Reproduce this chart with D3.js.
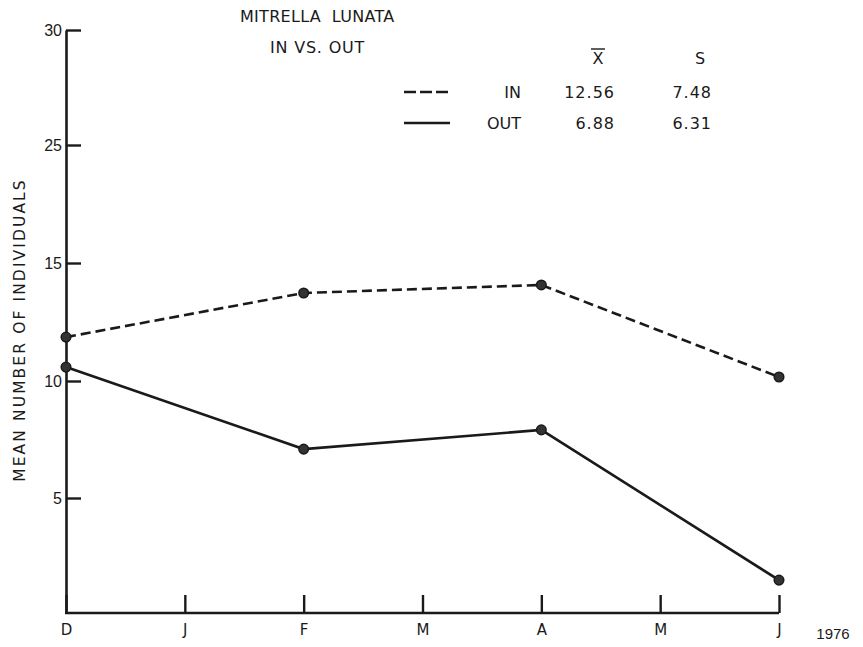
<!DOCTYPE html>
<html>
<head>
<meta charset="utf-8">
<script src="https://cdn.jsdelivr.net/npm/d3@7"></script>
<style>
  html, body { margin: 0; padding: 0; background: #fff; }
  svg { display: block; }
  text { font-family: "DejaVu Sans", "Open Sans", sans-serif; fill: #1a1a1a; }
</style>
</head>
<body>
<svg id="chart" width="863" height="647"></svg>
<script>
// ---- data ----
const months = ["D", "J", "F", "M", "A", "M2", "J2"];
const monthLabels = ["D", "J", "F", "M", "A", "M", "J"];
const sampleMonths = ["D", "F", "A", "J2"];
const inValues = [11.86, 13.73, 14.07, 10.17];
const outValues = [10.59, 7.09, 7.91, 1.43];
const yTickValues = [5, 10, 15, 25, 30];
// the printed axis: labelled marks are evenly spaced, with 20 skipped
const yLabelDomain = [0, 5, 10, 15, 25, 30];
const legendRows = [
  { name: "IN", mean: "12.56", sd: "7.48", dash: "12,4" },
  { name: "OUT", mean: "6.88", sd: "6.31", dash: null }
];
const title1 = "MITRELLA  LUNATA";
const title2 = "IN VS. OUT";
const yTitle = "MEAN NUMBER OF INDIVIDUALS";
const yearLabel = "1976";

// ---- layout ----
const svg = d3.select("#chart");
const ink = "#1a1a1a";
const x = d3.scalePoint().domain(months).range([66, 779]);
const y = d3.scaleLinear().domain(yLabelDomain).range([613, 498, 381, 263, 145, 30]);

// y axis
const yAxis = d3.axisLeft(y).tickValues(yTickValues)
  .tickSizeInner(-15).tickSizeOuter(0).tickPadding(4);
const gy = svg.append("g").attr("transform", `translate(${x("D")},0)`).call(yAxis);
gy.select(".domain").attr("stroke", ink).attr("stroke-width", 2.6);
gy.selectAll(".tick line").attr("stroke", ink).attr("stroke-width", 2.4);
gy.selectAll(".tick text").attr("font-size", 16).attr("dy", "0.36em").style("fill", ink)
  .style("font-family", "'Liberation Sans', Arial, sans-serif");

// x axis
const xAxis = d3.axisBottom(x).tickSizeInner(-18).tickSizeOuter(0).tickPadding(11)
  .tickFormat((d, i) => monthLabels[i]);
const gx = svg.append("g").attr("transform", `translate(0,${y(0)})`).call(xAxis);
gx.select(".domain").attr("stroke", ink).attr("stroke-width", 2.6)
  .attr("d", `M${x("D") - 1},0H${x("J2")}`);
gx.selectAll(".tick line").attr("stroke", ink).attr("stroke-width", 2.4);
gx.selectAll(".tick text").attr("font-size", 15).style("fill", ink);

svg.append("text").attr("x", x("J2") + 54).attr("y", y(0) + 26)
  .attr("text-anchor", "middle").attr("font-size", 15)
  .style("font-family", "'Liberation Sans', Arial, sans-serif").text(yearLabel);

// y title
svg.append("text")
  .attr("transform", `translate(25,${330}) rotate(-90)`)
  .attr("text-anchor", "middle").attr("font-size", 15.5)
  .attr("letter-spacing", 2.1).text(yTitle);

// lines
const line = d3.line().x(d => x(d[0])).y(d => y(d[1]));
const series = [
  { vals: inValues, dash: "10,5" },
  { vals: outValues, dash: null }
];
series.forEach(s => {
  const pts = sampleMonths.map((m, i) => [m, s.vals[i]]);
  svg.append("path").datum(pts).attr("d", line)
    .attr("fill", "none").attr("stroke", ink).attr("stroke-width", 2.6)
    .attr("stroke-dasharray", s.dash);
  svg.selectAll(null).data(pts).enter().append("circle")
    .attr("cx", d => x(d[0])).attr("cy", d => y(d[1])).attr("r", 4.8)
    .attr("fill", "#333").attr("stroke", ink).attr("stroke-width", 1.5);
});

// titles
svg.append("text").attr("x", 240).attr("y", 22)
  .attr("font-size", 16).attr("letter-spacing", 0.3).style("white-space", "pre").text(title1);
svg.append("text").attr("x", 270).attr("y", 53)
  .attr("font-size", 16).attr("letter-spacing", 0.8).text(title2);

// legend
svg.append("text").attr("x", 598).attr("y", 64).attr("text-anchor", "middle")
  .attr("font-size", 16).text("X");
svg.append("line").attr("x1", 591).attr("x2", 605).attr("y1", 49).attr("y2", 49)
  .attr("stroke", ink).attr("stroke-width", 1.4);
svg.append("text").attr("x", 700).attr("y", 64).attr("text-anchor", "middle")
  .attr("font-size", 16).text("S");
legendRows.forEach((r, i) => {
  const yy = 92 + i * 31;
  svg.append("line").attr("x1", 404).attr("x2", 450).attr("y1", yy).attr("y2", yy)
    .attr("stroke", ink).attr("stroke-width", 2.4).attr("stroke-dasharray", r.dash);
  svg.append("text").attr("x", 521).attr("y", yy + 6).attr("text-anchor", "end")
    .attr("font-size", 16).text(r.name);
  svg.append("text").attr("x", 615).attr("y", yy + 6).attr("text-anchor", "end")
    .attr("font-size", 16).attr("letter-spacing", 1).text(r.mean);
  svg.append("text").attr("x", 712).attr("y", yy + 6).attr("text-anchor", "end")
    .attr("font-size", 16).attr("letter-spacing", 1).text(r.sd);
});
</script>
</body>
</html>
